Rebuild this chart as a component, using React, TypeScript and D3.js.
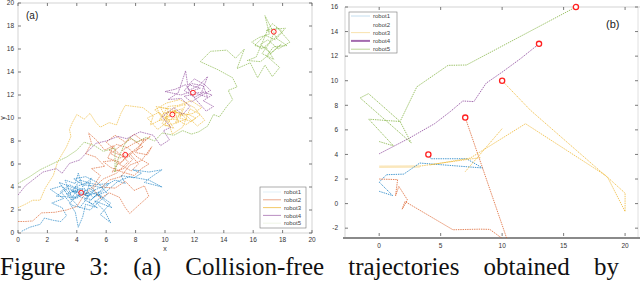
import React from 'react';
import * as d3 from 'd3';

type Pt = [number, number];

const robotNames = ['robot1', 'robot2', 'robot3', 'robot4', 'robot5'];
const robotColors = ['#0072BD', '#D95319', '#EDB120', '#7E2F8E', '#77AC30'];

// panel (a): random-walk trajectories
const walk1: Pt[] = [
  [0.25, 0.15], [0.8, 0.5], [1.5, 0.75], [1.8, 1.3], [2.4, 1.1], [2.9, 1.0], [3.3, 1.5], [3.0, 2.2], [2.3, 2.6],
  [3.1, 3.0], [2.2, 3.8], [3.0, 4.1], [3.6, 3.3], [3.2, 4.6], [3.9, 4.3], [4.1, 5.2], [4.4, 4.0], [5.0, 4.8],
  [4.6, 3.2], [5.6, 3.6], [4.8, 2.7], [5.4, 2.2], [4.6, 2.5], [4.4, 1.4], [4.1, 0.5], [3.9, 1.8], [3.5, 2.6],
  [4.3, 3.5], [3.4, 3.9], [2.6, 3.2], [3.8, 3.1], [4.9, 3.9], [5.8, 2.9], [6.4, 2.2], [5.2, 2.8], [5.9, 1.9],
  [6.3, 0.9], [5.6, 1.6], [6.3, 2.6], [5.5, 3.3], [6.2, 4.3], [5.3, 4.2], [4.2, 4.6], [3.7, 3.6], [4.8, 3.4],
  [2.8, 4.4], [3.6, 2.9], [5.9, 4.1], [6.6, 4.6], [7.3, 4.3], [7.0, 5.0], [7.9, 4.8], [8.4, 5.2], [7.8, 5.5],
  [8.9, 5.3], [9.8, 5.5], [9.1, 4.9], [8.6, 4.4], [9.8, 4.0], [8.9, 4.6], [7.6, 4.9], [6.8, 4.5], [6.0, 3.6],
  [5.1, 3.1], [4.5, 3.9], [3.3, 3.4], [4.0, 3.0], [4.6, 3.7], [3.9, 4.0], [4.7, 4.4], [5.2, 3.7], [4.5, 2.9],
  [5.1, 2.5], [5.7, 3.2], [5.0, 3.5], [4.2, 2.2], [3.6, 3.0], [4.1, 3.8], [3.5, 4.2], [2.9, 3.6], [3.7, 2.4],
  [4.9, 2.0], [5.5, 2.7], [6.1, 3.4], [5.4, 4.4], [4.6, 4.9], [3.8, 4.7], [4.4, 4.2], [5.1, 4.1], [5.8, 3.9],
  [5.0, 2.9], [4.3, 3.1], [3.6, 3.7], [4.8, 3.2], [4.3, 3.5],
];
const walk2: Pt[] = [
  [0, 1.0], [0.5, 1.0], [1.0, 1.05], [1.6, 1.75], [2.5, 1.8], [3.3, 2.0], [4.0, 2.3], [4.4, 3.1], [5.2, 4.2],
  [5.6, 5.0], [5.0, 5.6], [5.9, 5.8], [5.3, 6.6], [4.6, 6.9], [5.0, 7.8], [4.8, 8.7], [5.4, 8.0], [5.9, 7.2],
  [6.5, 7.6], [6.1, 6.5], [6.9, 6.2], [6.4, 5.3], [7.2, 5.6], [7.8, 6.4], [7.1, 7.2], [7.9, 7.8], [8.6, 8.2],
  [8.0, 7.0], [8.8, 6.8], [9.1, 7.5], [8.4, 6.3], [7.6, 5.9], [7.0, 4.9], [6.2, 4.6], [5.7, 4.0], [6.6, 3.9],
  [7.3, 4.5], [7.9, 3.7], [8.6, 4.1], [8.9, 3.2], [8.2, 2.4], [7.6, 1.7], [7.3, 2.2], [6.9, 3.1], [6.2, 3.5],
  [5.6, 3.0], [5.1, 3.9], [5.8, 4.7], [6.7, 5.2], [7.5, 6.2], [6.8, 7.0], [6.0, 7.9], [6.6, 8.5], [7.3, 7.9],
  [7.9, 8.6], [8.5, 8.0], [9.0, 8.4], [8.1, 7.4], [7.4, 6.7], [6.9, 6.0], [7.9, 7.1], [8.5, 7.5], [7.7, 8.2],
  [7.0, 7.6], [6.3, 6.9], [6.9, 6.5], [7.6, 6.9], [8.2, 6.0], [7.7, 5.4], [7.0, 5.9], [6.5, 6.3], [5.8, 6.2],
  [6.3, 5.7], [7.1, 5.3], [7.9, 5.0], [8.4, 5.6], [8.9, 6.0], [8.1, 6.6], [7.5, 7.4], [6.7, 7.7], [6.2, 7.2],
  [6.9, 6.8], [7.3, 6.8],
];
const walk3: Pt[] = [
  [0, 2.2], [0.5, 2.5], [1.0, 2.85], [1.5, 2.85], [1.85, 3.9], [2.4, 5.0], [2.7, 6.2], [3.3, 7.5], [3.6, 8.4],
  [3.5, 9.0], [3.7, 9.6], [4.0, 10.3], [4.5, 9.9], [4.9, 10.4], [5.3, 9.6], [5.6, 9.2], [6.2, 9.6], [6.7, 9.4],
  [7.0, 10.4], [7.3, 11.1], [7.9, 11.0], [8.5, 10.9], [9.2, 10.2], [9.0, 9.4], [9.8, 9.9], [9.4, 11.0],
  [10.2, 10.8], [10.0, 9.3], [10.9, 9.6], [10.6, 10.9], [11.4, 11.2], [11.0, 10.0], [11.8, 9.7], [12.4, 10.3],
  [11.7, 10.8], [11.2, 9.2], [10.5, 8.6], [10.2, 9.7], [9.6, 10.5], [8.8, 10.0], [9.5, 9.0], [10.4, 9.9],
  [11.3, 10.4], [12.2, 9.3], [12.7, 9.8], [12.0, 10.9], [11.0, 11.6], [10.1, 11.3], [9.3, 10.7], [10.0, 10.0],
  [10.8, 10.6], [9.9, 10.4], [11.2, 10.8], [10.7, 9.6], [11.5, 9.9], [10.9, 10.5], [10.1, 10.1], [10.6, 9.1],
  [9.8, 9.5], [10.3, 10.6], [11.6, 10.3], [12.1, 10.0], [11.4, 9.4], [10.8, 9.9], [9.6, 9.8], [10.2, 11.0],
  [10.9, 11.1], [11.8, 11.5], [12.5, 10.9], [11.9, 10.4], [11.1, 10.2], [10.4, 10.8], [9.7, 10.9], [10.1, 9.9],
  [10.5, 10.3],
];
const walk4: Pt[] = [
  [0, 3.3], [0.5, 4.1], [1.0, 4.6], [1.7, 5.3], [2.6, 5.6], [3.0, 5.2], [3.5, 6.05], [4.2, 6.35], [4.6, 6.9],
  [5.3, 7.8], [6.0, 8.0], [6.8, 8.4], [7.4, 8.2], [8.3, 8.8], [9.2, 8.5], [9.7, 7.6], [10.3, 8.1], [9.9, 8.9],
  [10.4, 9.2], [9.8, 10.1], [10.6, 10.9], [11.2, 10.3], [11.7, 11.0], [11.1, 11.7], [10.2, 11.6], [10.9, 12.2],
  [11.4, 14.1], [11.6, 12.4], [12.3, 12.8], [12.9, 13.6], [12.5, 12.3], [13.2, 12.0], [12.6, 11.5], [13.3, 11.0],
  [12.8, 10.6], [12.1, 11.6], [11.4, 12.9], [10.7, 12.5], [10.0, 12.3], [11.1, 12.0], [12.4, 12.6], [11.6, 12.9],
  [12.0, 13.4], [12.7, 12.9], [13.1, 12.4], [12.4, 11.9], [11.8, 11.4], [11.3, 11.9], [12.2, 12.1], [12.9, 11.8],
  [12.6, 12.8], [11.8, 13.0], [11.3, 12.4], [12.0, 11.8], [12.6, 12.2], [11.9, 12.2],
];
const walk5: Pt[] = [
  [0, 4.3], [0.8, 4.9], [1.5, 5.5], [2.4, 6.05], [3.3, 6.6], [4.0, 7.2], [4.5, 7.9], [5.2, 7.6], [5.8, 7.1],
  [6.6, 7.4], [6.6, 5.3], [6.8, 6.4], [7.2, 7.6], [7.6, 8.3], [8.1, 7.9], [8.7, 8.3], [9.3, 8.0], [9.8, 8.7],
  [10.6, 8.5], [11.2, 8.9], [11.8, 8.6], [12.3, 8.8], [12.9, 9.3], [13.3, 10.3], [13.7, 10.1], [14.2, 11.0],
  [14.6, 11.6], [14.3, 12.4], [14.9, 12.7], [14.6, 13.5], [13.6, 14.2], [12.4, 14.9], [13.1, 15.8], [14.2, 15.9],
  [14.8, 15.2], [15.4, 16.0], [14.9, 14.3], [15.8, 14.8], [16.3, 13.5], [16.8, 14.6], [17.3, 13.6], [17.8, 14.4],
  [16.9, 15.4], [17.4, 16.2], [18.3, 16.3], [17.6, 16.9], [16.8, 18.9], [17.1, 17.3], [16.4, 17.0], [15.9, 16.6],
  [16.6, 16.0], [17.8, 17.3], [18.2, 17.8], [17.0, 17.7], [16.2, 15.3], [15.6, 15.0], [16.5, 14.9], [17.9, 16.4],
  [17.2, 15.6], [16.5, 16.4], [17.0, 16.8], [17.7, 16.0], [18.5, 16.6], [17.6, 17.9], [17.1, 16.5], [16.6, 15.6],
  [17.4, 15.1], [16.9, 16.1], [16.1, 16.3], [16.8, 17.2], [17.5, 16.8], [18.0, 17.5], [17.3, 18.2], [16.9, 17.6],
  [17.4, 17.5],
];
const walksA = [walk1, walk2, walk3, walk4, walk5];
const markersA: Pt[] = [[4.3, 3.5], [7.3, 6.8], [10.5, 10.3], [11.9, 12.2], [17.4, 17.5]];

// panel (b): planned paths, each robot as a list of polylines
const pathB1: Pt[][] = [
  [[0, 1.0], [1.1, 0.65], [0, 1.75], [0.6, 2.35], [2.0, 2.4], [3.3, 3.3], [8.4, 2.9], [7.1, 3.65], [4.2, 3.65], [4, 4]],
];
const pathB2: Pt[][] = [
  [[0, 2.0], [1.5, 1.95], [1.33, 0.63], [1.6, 1.4], [2.3, 0.3], [1.87, -0.45], [2.1, 0.17], [6.0, -2.13],
    [8.2, -2.08], [9.0, -2.1], [10.5, -3.2], [7, 7]],
];
const pathB3: Pt[][] = [
  [[3.3, 3.05], [8.3, 3.75]],
  [[4.15, 3.15], [7.4, 3.7], [11.9, 6.5], [18.4, 2.3], [20, 0.85], [20, -0.65], [18.6, 2.1], [12.3, 7.6], [10, 10]],
  [[7.0, 2.6], [10.0, 6.1]],
];
const pathB3Start: Pt[] = [[0, 3.0], [3.3, 3.02]];
const pathB4: Pt[][] = [
  [[0, 4.05], [2.4, 5.3], [4.5, 6.5], [5.8, 7.5], [6.8, 8.35], [7.7, 8.3], [8.7, 9.8], [10, 10.7], [11.5, 11.8], [13, 13]],
];
const pathB5: Pt[][] = [
  [[0, 5.05], [1.16, 4.7], [-0.85, 6.87], [1.7, 6.68], [2.6, 4.95], [-1.55, 8.6], [-0.87, 8.95], [1.7, 6.68],
    [3.06, 9.5], [5.6, 11.25], [7.1, 11.28], [16, 16]],
];
const pathsB = [pathB1, pathB2, pathB3, pathB4, pathB5];
const markersB: Pt[] = [[4, 4], [7, 7], [10, 10], [13, 13], [16, 16]];

const ticksA = [0, 2, 4, 6, 8, 10, 12, 14, 16, 18, 20];
const ticksBY = [-2, 0, 2, 4, 6, 8, 10, 12, 14, 16];
const ticksBX = [0, 5, 10, 15, 20];

const caption = 'Figure 3:  (a)  Collision-free trajectories obtained by';

const sans = 'Liberation Sans, Arial, sans-serif';

export default function App() {
  const xA = d3.scaleLinear().domain([0, 20]).range([18, 312]);
  const yA = d3.scaleLinear().domain([0, 20]).range([233, 3]);
  const xB = d3.scaleLinear().domain([-2.78, 21.05]).range([345, 638]);
  const yB = d3.scaleLinear().domain([-2.8, 16]).range([238, 7]);

  const lineA = d3.line<Pt>().x(d => xA(d[0])).y(d => yA(d[1]));
  const lineB = d3.line<Pt>().x(d => xB(d[0])).y(d => yB(d[1]));

  const legA = [0.12, 0.55, 0.75, 0.6, 0.12];
  const legB = [0.25, 0, 0.4, 0.7, 0.55];

  return (
    <svg width={640} height={282} style={{ position: 'absolute', left: 0, top: 0, background: '#fff' }}>
      <defs>
        <clipPath id="clipA"><rect x={18} y={3} width={294} height={230} /></clipPath>
        <clipPath id="clipB"><rect x={345} y={7} width={293} height={231} /></clipPath>
      </defs>

      {/* panel (a) */}
      <rect x={18} y={3} width={294} height={230} fill="none" stroke="#c8c8c8" strokeWidth={0.8} />
      {ticksA.map(t => (
        <g key={'ay' + t}>
          <line x1={18} x2={21} y1={yA(t)} y2={yA(t)} stroke="#444" strokeWidth={0.7} />
          <line x1={309} x2={312} y1={yA(t)} y2={yA(t)} stroke="#444" strokeWidth={0.7} />
          <text x={14} y={yA(t) + 2.3} fontSize={6.5} fontFamily={sans} fill="#333" textAnchor="end">{t}</text>
        </g>
      ))}
      {ticksA.map(t => (
        <g key={'ax' + t}>
          <line x1={xA(t)} x2={xA(t)} y1={233} y2={230} stroke="#444" strokeWidth={0.7} />
          <line x1={xA(t)} x2={xA(t)} y1={3} y2={6} stroke="#444" strokeWidth={0.7} />
          <text x={xA(t)} y={241.5} fontSize={6.5} fontFamily={sans} fill="#333" textAnchor="middle">{t}</text>
        </g>
      ))}
      <text x={165} y={251} fontSize={7} fontFamily={sans} fill="#333" textAnchor="middle">x</text>
      <text transform="translate(5,118) rotate(-90)" fontSize={7} fontFamily={sans} fill="#333" textAnchor="middle">y</text>
      <g clipPath="url(#clipA)">
        {walksA.map((w, i) => (
          <path key={'wa' + i} d={lineA(w) || ''} fill="none" stroke={robotColors[i]} strokeWidth={0.7}
            strokeDasharray="1.6,0.8" opacity={0.85} />
        ))}
      </g>
      {markersA.map((m, i) => (
        <circle key={'ma' + i} cx={xA(m[0])} cy={yA(m[1])} r={2.4} fill="#fff" fillOpacity={0.6}
          stroke="#ff2020" strokeWidth={1} />
      ))}
      <text x={26} y={19} fontSize={10} fontFamily={sans} fill="#222">(a)</text>
      <rect x={260} y={187} width={46} height={41} fill="#fff" stroke="#777" strokeWidth={0.6} />
      {robotNames.map((n, i) => (
        <g key={'la' + i}>
          <line x1={263} x2={281} y1={192 + i * 7.8} y2={192 + i * 7.8} stroke={robotColors[i]}
            strokeWidth={0.9} opacity={legA[i]} />
          <text x={284} y={194.2 + i * 7.8} fontSize={6} fontFamily={sans} fill="#444">{n}</text>
        </g>
      ))}

      {/* panel (b) */}
      <line x1={345} x2={345} y1={7} y2={238} stroke="#c8c8c8" strokeWidth={0.8} />
      <line x1={345} x2={640} y1={7} y2={7} stroke="#c8c8c8" strokeWidth={0.8} />
      <line x1={638} x2={638} y1={7} y2={238} stroke="#d8d8d8" strokeWidth={0.8} />
      {ticksBY.map(t => (
        <g key={'by' + t}>
          <line x1={345} x2={348} y1={yB(t)} y2={yB(t)} stroke="#444" strokeWidth={0.7} />
          <line x1={635} x2={638} y1={yB(t)} y2={yB(t)} stroke="#444" strokeWidth={0.7} />
          <text x={338} y={yB(t) + 2.3} fontSize={6.5} fontFamily={sans} fill="#333" textAnchor="end">{t}</text>
        </g>
      ))}
      {ticksBX.map(t => (
        <g key={'bx' + t}>
          <line x1={xB(t)} x2={xB(t)} y1={236} y2={233} stroke="#444" strokeWidth={0.7} />
          <line x1={xB(t)} x2={xB(t)} y1={7} y2={10} stroke="#444" strokeWidth={0.7} />
          <text x={xB(t)} y={248} fontSize={6.5} fontFamily={sans} fill="#333" textAnchor="middle">{t}</text>
        </g>
      ))}
      <line x1={343} x2={640} y1={238} y2={238} stroke="#8a8a8a" strokeWidth={2.2} />
      <g clipPath="url(#clipB)">
        <path d={lineB(pathB3Start) || ''} fill="none" stroke={robotColors[2]} strokeWidth={2.4} opacity={0.3} />
        {pathsB.map((ps, i) => ps.map((p, j) => (
          <path key={'pb' + i + '_' + j} d={lineB(p) || ''} fill="none" stroke={robotColors[i]} strokeWidth={0.9}
            strokeDasharray="1.4,0.9" opacity={0.8} />
        )))}
      </g>
      {markersB.map((m, i) => (
        <circle key={'mb' + i} cx={xB(m[0])} cy={yB(m[1])} r={2.6} fill="#fff" stroke="#ff2020" strokeWidth={1.3} />
      ))}
      <text x={606} y={28} fontSize={11} fontFamily={sans} fill="#222">(b)</text>
      <rect x={349} y={12} width={48} height={41} fill="#fff" stroke="#777" strokeWidth={0.6} />
      {robotNames.map((n, i) => (
        <g key={'lb' + i}>
          <line x1={351} x2={370} y1={16 + i * 8.3} y2={16 + i * 8.3} stroke={robotColors[i]}
            strokeWidth={i === 3 ? 2 : 0.9} opacity={legB[i]} />
          <text x={373} y={18.2 + i * 8.3} fontSize={6} fontFamily={sans} fill="#444">{n}</text>
        </g>
      ))}

      {/* caption */}
      <text x={0} y={275} fontSize={25} fontFamily="Liberation Serif, Times New Roman, serif" fill="#111"
        wordSpacing={18}>{caption}</text>
    </svg>
  );
}
